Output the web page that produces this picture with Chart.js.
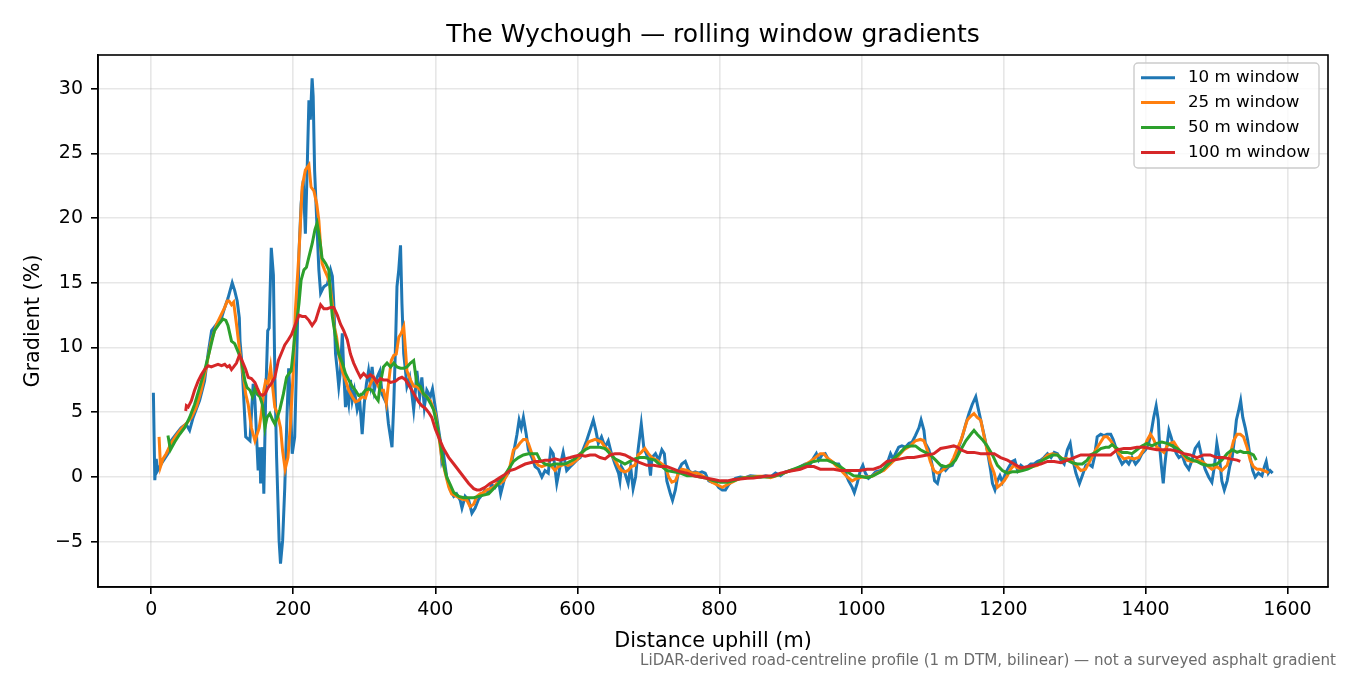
<!DOCTYPE html>
<html>
<head>
<meta charset="utf-8">
<script src="https://cdn.jsdelivr.net/npm/chart.js"></script>
<style>
  html, body { margin: 0; padding: 0; background: #fff; }
  canvas { display: block; }
</style>
</head>
<body>
<canvas id="chart" width="1350" height="675"></canvas>
<script>
/* ---------- DATA (distance m, gradient %) ---------- */
const win10 = [
  [3,6.5],[5,-0.25],[7,1.4],[9,0.5],[14,1.0],[23.5,1.8],[28,2.8],[35,3.3],[42,3.8],[49,4.1],
  [54,3.6],[59,4.6],[68,5.9],[75,7.4],[80,9.5],[85,11.3],[92,11.8],[99,12.3],[103.5,13.1],[108,13.8],
  [114,15.0],[117.5,14.4],[121,13.6],[124,12.3],[125,10.5],[127,9.2],[129,7.4],[133,3.1],[139,2.8],[143.5,7.2],
  [146,5.9],[150.5,0.5],[153,2.3],[154,-0.5],[157,2.3],[158.5,-1.3],[161,5.9],[164,11.3],[166,11.5],[169,17.7],
  [172,15.6],[174,7.9],[176.5,1.5],[180,-4.9],[182,-6.7],[185,-4.9],[188,-0.8],[191,4.5],[193.5,8.4],[196,5.7],
  [198.5,1.8],[202,3.1],[205.5,10.8],[208,17.3],[211,21.1],[214,22.9],[217,18.8],[219.5,23.7],[222,29.1],[224,27.6],
  [226.5,30.8],[228,29.4],[230,23.7],[233,19.8],[236,16.0],[238.5,14.2],[243,14.7],[248,14.9],[252.5,16.0],[255,15.5],
  [257,13.4],[259.5,9.5],[262,8.2],[264,7.0],[266.5,8.2],[269,11.1],[271,8.2],[273.5,5.4],[276,6.4],[278,5.7],
  [280.5,7.5],[283,5.9],[286,6.7],[290,5.2],[293.5,5.9],[297,3.3],[300,5.7],[303,7.2],[306,8.2],[308.5,7.2],
  [311,8.5],[314,6.7],[318,7.7],[322,8.2],[325,6.4],[331,5.7],[334,4.1],[339,2.3],[341.5,5.7],[344,10.3],
  [346,14.7],[348.5,16.0],[351,17.9],[353,13.4],[355.5,9.5],[358,8.2],[360,7.0],[364,7.7],[367,6.4],[369.5,5.2],
  [372,6.7],[374,8.2],[378,6.2],[381,7.7],[384.5,5.4],[388,6.7],[393,6.2],[396,6.8],[402,4.6],[407,2.8],
  [409,1.3],[411.5,1.8],[416,0.0],[421,-1.0],[426,-1.5],[430,-1.3],[435,-1.8],[437.5,-2.4],[442,-1.5],[447,-1.8],
  [451.5,-2.8],[456,-2.4],[461,-1.7],[465.5,-1.4],[470,-1.0],[475,-1.2],[479.5,-0.6],[484,-0.8],[489,-0.3],[492,-1.3],
  [498,0.0],[503,0.3],[508,1.3],[511,2.1],[515,3.3],[518,4.4],[521,3.8],[524,4.6],[528,3.3],[531,2.1],
  [536,1.5],[540.5,0.8],[545,0.6],[550,0.0],[554.5,0.5],[559,0.3],[562.5,2.1],[566,1.8],[571,-0.5],[575.5,0.8],
  [580,1.9],[585,0.5],[590,0.8],[594,1.0],[599,1.3],[604,1.5],[608,2.1],[613,2.8],[619,3.8],[622.5,4.4],
  [626,3.6],[629.5,2.6],[634,3.1],[639,2.3],[643.5,2.8],[648,1.8],[653,1.0],[658,0.3],[660,-0.3],[662,0.8],
  [667,0.3],[671.5,-0.5],[675,0.8],[678.5,-0.9],[682,0.0],[685.5,2.1],[690,4.1],[693.5,2.3],[697,1.8],[700.5,1.3],
  [703,0.1],[705,1.5],[710,1.8],[714.5,1.3],[719,2.1],[722.5,1.8],[726,-0.3],[731,-1.3],[734,-1.8],[738,-1.0],
  [742.5,0.5],[747,1.0],[752,1.2],[757,0.5],[761.5,0.3],[766,0.4],[771,0.3],[775.5,0.4],[780,0.3],[785,-0.3],
  [790,-0.4],[794,-0.4],[799,-0.8],[804,-1.0],[808.5,-1.0],[813,-0.6],[818,-0.3],[822.5,-0.1],[829.5,0.0],[836.5,-0.05],
  [843.5,0.1],[850.5,0.05],[857.5,0.0],[865,0.1],[872,0.0],[879,0.3],[886,0.1],[893,0.4],[900,0.5],[907,0.6],
  [914,0.8],[921,1.0],[928,1.0],[933,1.5],[936.5,1.8],[940,1.3],[944.5,1.7],[949,1.8],[954,1.3],[958.5,1.2],
  [963,1.0],[968,1.0],[973,0.5],[977.5,0.3],[982,-0.3],[987,-0.8],[990,-1.2],[994,-0.5],[998.5,0.5],[1002,0.9],
  [1005.5,0.3],[1010,-0.1],[1015,0.1],[1020,0.4],[1027,0.5],[1031.5,0.6],[1036,1.0],[1041,1.8],[1044.5,1.4],[1048,1.8],
  [1052.5,2.3],[1057,2.4],[1062,2.3],[1067,2.6],[1071.5,2.7],[1076,3.2],[1081,3.8],[1084,4.4],[1088,3.6],[1090,2.6],
  [1095,2.1],[1100,0.8],[1103,-0.3],[1107,-0.5],[1110.5,0.3],[1114,0.8],[1118.5,0.5],[1123,0.8],[1128,0.9],[1132.5,1.5],
  [1137,2.3],[1142,3.1],[1147,4.1],[1151.5,4.9],[1156,5.6],[1161,6.2],[1164,5.4],[1168,4.4],[1172.5,3.3],[1177,2.1],
  [1182,0.5],[1184.5,-0.5],[1188,-1.0],[1191.5,-0.3],[1195,0.1],[1198.5,-0.4],[1203,0.3],[1208,0.8],[1212.5,1.2],[1216,1.3],
  [1220,0.5],[1224.5,0.9],[1229,0.7],[1234,0.8],[1238.5,1.0],[1243,1.0],[1248,1.2],[1252.5,1.3],[1257,1.5],[1262,1.8],
  [1267,1.5],[1271.5,1.9],[1276,1.8],[1281,1.3],[1285.5,1.0],[1290,2.1],[1294,2.6],[1297,1.5],[1302,0.3],[1307,-0.5],
  [1311,0.1],[1316,0.9],[1320,1.0],[1325,0.8],[1328,1.5],[1332,3.1],[1337,3.3],[1341.5,3.2],[1346,3.3],[1351,3.3],
  [1354.5,2.9],[1358,2.3],[1362.5,1.5],[1367,1.0],[1372,1.3],[1376.5,1.0],[1381,1.5],[1386,1.0],[1390.5,1.3],[1395,1.8],
  [1400,2.1],[1404.5,2.6],[1408.5,3.6],[1411.5,4.6],[1415,5.5],[1418,4.4],[1420,2.3],[1422.5,0.8],[1425,-0.5],[1427,0.8],
  [1429.5,2.1],[1433,3.6],[1436,3.1],[1440,2.3],[1443.5,1.8],[1447,1.5],[1451.5,1.7],[1456,1.0],[1461,0.6],[1465.5,1.3],
  [1470,2.2],[1475,2.6],[1479.5,1.5],[1484,0.6],[1489,0.0],[1493.5,-0.4],[1497,0.8],[1500.5,2.6],[1504.5,1.3],[1507.5,-0.3],
  [1511,-1.0],[1515,-0.3],[1518.5,0.8],[1522,1.5],[1525,2.8],[1528,4.4],[1531,5.1],[1534,5.9],[1537,4.6],[1540.5,3.8],
  [1544,2.8],[1547.5,1.5],[1551,0.5],[1554.5,0.0],[1559,0.3],[1564,0.1],[1567.5,0.8],[1570,1.2],[1573,0.3],[1575.5,0.5],
  [1579,0.3]
];

const win25 = [
  [11,3.1],[13,0.8],[16.5,1.4],[21,1.8],[28,2.6],[35,3.2],[42,3.7],[49,4.1],[56.5,4.6],[63.5,5.4],
  [70.5,6.7],[77.5,8.5],[84.5,10.5],[92,11.8],[99,12.6],[103.5,13.1],[107,13.6],[109.5,13.6],[113,13.3],[116,13.5],
  [120,11.8],[124.5,9.7],[129.5,7.9],[133,6.4],[136.5,5.6],[141,3.8],[146,2.8],[149,3.3],[152,3.8],[155,4.9],
  [158.5,6.7],[161,7.4],[164.5,7.2],[168,8.5],[171,6.9],[174,5.4],[177.5,4.9],[182,3.8],[185,2.0],[188.5,0.6],
  [192.5,1.5],[196,4.1],[200,8.2],[203,12.9],[208,17.3],[212.5,22.4],[217,23.7],[222,24.1],[225,22.4],[229,22.1],
  [233,21.1],[236,19.8],[238.5,17.8],[240.5,16.5],[244,16.0],[248,15.5],[251.5,14.9],[255,13.4],[257,11.8],[261,10.8],
  [264,9.5],[269,8.2],[273.5,7.5],[278,6.7],[283,6.2],[287.5,5.8],[292,5.9],[297,6.2],[301.5,6.1],[305,6.7],
  [308.5,7.2],[313,7.7],[318,7.2],[322.5,6.7],[327,6.7],[331,5.7],[334,7.2],[338,9.0],[341.5,9.4],[345,9.5],
  [348.5,10.8],[352,11.1],[355.5,11.6],[358,9.8],[360,8.2],[365,7.5],[369.5,7.0],[374,7.0],[379,6.7],[383.5,6.4],
  [388,6.2],[393,5.9],[400,4.9],[404.5,3.3],[409,1.5],[414,0.3],[419,-0.8],[423,-1.3],[430,-1.5],[437.5,-1.7],
  [444.5,-1.8],[449,-2.3],[454,-2.1],[458.5,-1.5],[463,-1.3],[468,-1.2],[472.5,-1.0],[477,-0.9],[482,-0.8],[486.5,-0.5],
  [491,-0.5],[496,-0.3],[500.5,0.1],[505,0.8],[510,2.1],[515,2.3],[519,2.6],[524,2.9],[528,2.9],[531,2.6],
  [536,1.8],[540.5,1.2],[545,0.9],[550,0.8],[554.5,0.9],[559,1.0],[564,0.8],[568.5,0.5],[573,0.8],[578,0.9],
  [582.5,1.0],[587,0.9],[592,1.0],[596.5,1.2],[601,1.4],[606,1.8],[611,2.2],[615.5,2.7],[620,2.8],[625,2.9],
  [629.5,2.8],[634,2.7],[639,2.3],[643.5,2.1],[648,1.7],[653,1.3],[658,0.8],[662,0.5],[667,0.4],[671.5,0.5],
  [676,0.8],[681,0.9],[685.5,1.7],[690,1.9],[695,2.2],[700,1.8],[705,1.5],[712,1.3],[719,1.0],[724,0.8],
  [728.5,0.0],[733,-0.4],[738,-0.3],[742.5,0.3],[747,0.6],[754.5,0.5],[761.5,0.3],[768.5,0.3],[775.5,0.1],[782.5,-0.1],
  [789.5,-0.4],[796.5,-0.6],[804,-0.8],[811,-0.6],[818,-0.4],[825,-0.2],[834,-0.05],[843.5,0.0],[853,0.05],[862.5,0.05],
  [872,-0.05],[881,0.1],[890.5,0.3],[900,0.5],[909,0.6],[919,0.9],[928,1.2],[935,1.5],[942,1.8],[947,1.8],
  [951.5,1.5],[958.5,1.2],[965.5,0.8],[973,0.4],[980,0.0],[987,-0.3],[994,-0.1],[1001,0.0],[1008,0.0],[1015,0.05],
  [1022,0.3],[1031.5,0.5],[1041,1.0],[1050,1.5],[1060,2.1],[1069,2.4],[1076,2.8],[1083,2.9],[1088,2.8],[1092.5,2.1],
  [1097,1.2],[1102,0.5],[1107,0.3],[1111.5,0.4],[1116,0.6],[1121,0.8],[1125.5,1.0],[1130,1.5],[1135,2.2],[1140,2.8],
  [1144.5,3.6],[1149,4.4],[1154,4.7],[1158.5,4.9],[1163,4.6],[1168,4.4],[1172.5,3.2],[1177,2.1],[1182,1.0],[1187,0.3],
  [1191.5,-0.8],[1196,-0.6],[1201,-0.3],[1205.5,0.1],[1210,0.6],[1215,0.9],[1220,0.7],[1227,0.6],[1234,0.7],[1241,0.8],
  [1248,0.9],[1255,1.3],[1262,1.7],[1269,1.8],[1276,1.7],[1283,1.4],[1290,1.4],[1297,1.2],[1304,0.8],[1309,0.5],
  [1315.5,0.6],[1322.5,1.3],[1330,2.1],[1337,2.7],[1341.5,3.1],[1346,3.1],[1351,2.8],[1355.5,2.4],[1362.5,1.8],[1369.5,1.4],
  [1376.5,1.5],[1383.5,1.4],[1390.5,1.5],[1397.5,2.1],[1402,2.8],[1407,3.3],[1411.5,2.9],[1416,2.3],[1421,2.1],[1426,1.9],
  [1430.5,2.4],[1435,2.6],[1440,2.7],[1444.5,2.3],[1451.5,1.8],[1458.5,1.3],[1465.5,1.2],[1472.5,1.3],[1479.5,1.2],[1486.5,0.9],
  [1493.5,0.6],[1500.5,0.8],[1507.5,0.5],[1515,0.9],[1519.5,1.8],[1524,2.8],[1529,3.3],[1533.5,3.3],[1538,3.1],[1543,2.3],
  [1547.5,1.3],[1552,0.8],[1557,0.6],[1561.5,0.6],[1566,0.5],[1571,0.4],[1573,0.3]
];

const win50 = [
  [23.5,3.2],[27,2.1],[33,2.7],[40,3.3],[47,3.8],[54,4.6],[61,5.6],[68,6.9],[75,8.2],[82,9.7],
  [89,11.3],[96.5,11.9],[101,12.2],[105,12.1],[108,11.7],[113,10.5],[117.5,10.3],[122,9.7],[127,9.0],[132,7.4],
  [135,6.9],[139,6.7],[142.5,6.2],[146,6.8],[149,6.4],[153,6.2],[156.5,5.6],[160,3.8],[163,4.6],[167,4.9],
  [171,4.4],[174,4.1],[177.5,4.6],[181,5.2],[186,6.4],[190.5,7.7],[194,8.0],[197,8.2],[202,10.8],[208,13.4],
  [211,15.2],[215,16.0],[218.5,16.2],[222,17.0],[226.5,18.0],[230.5,19.1],[233.5,19.6],[236,18.8],[238.5,17.8],[240.5,16.9],
  [245.5,16.5],[250,16.0],[252.5,13.9],[255,12.4],[259.5,10.8],[264,9.5],[269,8.8],[273.5,8.0],[278,7.5],[283,7.0],
  [287.5,6.7],[292,6.3],[297,6.4],[301.5,6.7],[306,6.8],[311,6.7],[315.5,6.2],[319.5,5.9],[322.5,7.2],[327,8.5],
  [332,8.8],[337,8.5],[341.5,8.8],[346,8.5],[351,8.4],[355.5,8.4],[360,8.5],[365,8.8],[369.5,9.0],[372,8.0],
  [374,7.2],[379,7.0],[383.5,6.4],[388,6.2],[393,5.7],[397.5,5.2],[402,4.1],[407,2.6],[411.5,1.0],[416,0.0],
  [421,-0.6],[426,-1.2],[433,-1.5],[440,-1.6],[447,-1.6],[454,-1.6],[461,-1.5],[468,-1.4],[475,-1.3],[482,-0.9],
  [489,-0.5],[496,0.0],[503,0.6],[510,1.2],[517,1.5],[524,1.7],[531,1.8],[538,1.8],[543,1.8],[547.5,1.3],
  [554.5,1.0],[561.5,0.9],[568.5,1.0],[575.5,1.0],[582.5,1.0],[590,1.2],[596.5,1.4],[604,1.8],[611,2.1],[618,2.3],
  [625,2.3],[632,2.3],[639,2.2],[646,1.8],[653,1.4],[660,1.2],[667,1.0],[674,1.2],[681,1.4],[688,1.5],
  [695,1.5],[702,1.4],[709,1.3],[717,0.9],[726,0.5],[735.5,0.4],[745,0.3],[754.5,0.1],[764,0.1],[773,0.0],
  [782.5,-0.1],[792,-0.3],[801.5,-0.4],[811,-0.4],[820,-0.3],[829.5,-0.1],[839,-0.05],[848,0.0],[857.5,0.0],[867,0.0],
  [876.5,0.05],[886,0.2],[895,0.4],[904.5,0.6],[914,0.8],[923.5,1.0],[933,1.2],[942,1.3],[951.5,1.3],[961,1.1],
  [970,0.8],[980,0.4],[989,0.1],[998.5,0.05],[1008,-0.05],[1017,0.1],[1027,0.4],[1036,0.9],[1045.5,1.4],[1055,1.9],
  [1062,2.3],[1069,2.4],[1076,2.4],[1083,2.1],[1090,1.9],[1097,1.7],[1104.5,1.3],[1111.5,0.9],[1118.5,0.8],[1125.5,0.9],
  [1132.5,1.3],[1140,2.1],[1147,2.8],[1154,3.3],[1158.5,3.6],[1163,3.3],[1170,2.9],[1177,2.4],[1184.5,1.7],[1191.5,0.9],
  [1198.5,0.5],[1205.5,0.3],[1212.5,0.4],[1220,0.4],[1227,0.5],[1234,0.6],[1241,0.8],[1248,1.0],[1255,1.3],[1262,1.5],
  [1269,1.7],[1276,1.7],[1283,1.4],[1290,1.3],[1297,1.1],[1304,1.0],[1311,1.0],[1318,1.3],[1322.5,1.7],[1330,1.9],
  [1337,2.2],[1344,2.3],[1348.5,2.3],[1353,2.5],[1360,2.2],[1367,1.9],[1374,1.9],[1381,1.8],[1388,2.1],[1395,2.4],
  [1402,2.6],[1409,2.4],[1416,2.6],[1423,2.7],[1430.5,2.6],[1437.5,2.4],[1444.5,2.2],[1451.5,1.9],[1458.5,1.5],[1465.5,1.3],
  [1472.5,1.2],[1479.5,1.0],[1486.5,0.9],[1493.5,0.9],[1500.5,1.0],[1507.5,1.3],[1515,1.8],[1522,2.1],[1529,1.9],[1533.5,2.0],
  [1538,1.9],[1545,1.9],[1552,1.7],[1556,1.3]
];

const win100 = [
  [48.5,5.1],[49.5,5.5],[52,5.4],[56.5,5.9],[61,6.7],[66,7.4],[70.5,7.9],[75,8.3],[80,8.6],[84.5,8.5],
  [89,8.6],[94,8.7],[99,8.6],[103.5,8.7],[107,8.5],[110,8.6],[113,8.3],[116,8.5],[120,8.8],[124,9.4],
  [127,9.1],[130,8.7],[133,8.3],[136.5,7.7],[141,7.6],[146,7.3],[149,6.9],[153,6.4],[156.5,6.3],[160,6.4],
  [164.5,6.9],[169,7.2],[174,7.7],[179,9.0],[183.5,9.6],[188,10.2],[193,10.6],[197.5,11.0],[203,11.8],[208,12.5],
  [212.5,12.4],[217,12.4],[222,12.1],[226.5,11.7],[231.5,12.1],[236,12.9],[238.5,13.3],[243,13.0],[248,13.0],[252.5,13.1],
  [257,13.1],[262,12.5],[266.5,11.8],[271,11.3],[276,10.6],[280.5,9.5],[285,8.8],[290,8.2],[294.5,7.7],[299,8.0],
  [304,7.7],[308.5,7.9],[313,7.7],[318,7.3],[322.5,7.6],[327,7.5],[332,7.5],[337,7.3],[344,7.4],[348.5,7.6],
  [353,7.7],[358,7.5],[362.5,7.1],[367,6.7],[372,6.2],[376.5,5.8],[381,5.5],[386,5.3],[390.5,5.0],[395,4.6],
  [400,3.7],[404.5,3.1],[411.5,2.2],[419,1.5],[426,1.0],[433,0.5],[440,0.0],[447,-0.5],[454,-0.9],[458.5,-1.0],
  [463,-1.0],[470,-0.8],[477,-0.5],[484,-0.3],[491,-0.05],[498,0.2],[505,0.5],[512,0.6],[519,0.8],[526.5,1.0],
  [533.5,1.1],[540.5,1.2],[547.5,1.2],[554.5,1.3],[561.5,1.3],[568.5,1.4],[575.5,1.3],[582.5,1.4],[590,1.5],[596.5,1.6],
  [604,1.7],[611,1.6],[618,1.7],[625,1.7],[632,1.5],[639,1.4],[646,1.7],[653,1.8],[660,1.8],[667,1.7],
  [674,1.5],[681,1.3],[688,1.1],[698,0.9],[707.5,0.9],[717,0.8],[726,0.8],[735.5,0.6],[745,0.4],[754.5,0.3],
  [764,0.1],[773,0.0],[782.5,-0.1],[792,-0.2],[801.5,-0.3],[811,-0.3],[820,-0.2],[829.5,-0.15],[839,-0.1],[848,-0.08],
  [857.5,0.0],[867,0.08],[876.5,0.1],[886,0.3],[895,0.4],[904.5,0.5],[914,0.6],[923.5,0.8],[933,0.8],[942,0.6],
  [951.5,0.6],[961,0.6],[970,0.5],[980,0.5],[989,0.5],[998.5,0.5],[1008,0.6],[1017,0.6],[1027,0.8],[1036,1.2],
  [1045.5,1.3],[1055,1.4],[1064.5,1.5],[1074,1.5],[1083,1.6],[1092.5,1.7],[1102,1.8],[1111.5,2.2],[1121,2.3],[1130,2.4],
  [1135,2.3],[1140,2.1],[1149,1.9],[1158.5,1.9],[1168,1.8],[1177,1.8],[1187,1.8],[1196,1.5],[1205.5,1.3],[1215,1.0],
  [1224.5,0.7],[1234,0.8],[1243,0.9],[1252.5,1.0],[1262,1.2],[1271.5,1.2],[1281,1.1],[1290,1.3],[1299.5,1.5],[1309,1.7],
  [1318,1.7],[1327,1.7],[1336,1.7],[1345,1.7],[1351,1.7],[1360,2.1],[1369.5,2.2],[1379,2.2],[1388,2.3],[1397.5,2.3],
  [1407,2.2],[1416,2.1],[1426,2.1],[1435,2.1],[1444.5,2.0],[1454,1.8],[1463,1.7],[1472.5,1.5],[1482,1.7],[1491,1.7],
  [1500.5,1.5],[1510,1.5],[1519.5,1.4],[1529,1.3],[1533.5,1.2]
];

const seriesLabels = ['10 m window', '25 m window', '50 m window', '100 m window'];
const seriesColors = ['#1f77b4', '#ff7f0e', '#2ca02c', '#d62728'];
const seriesData = [win10, win25, win50, win100];

const xTicks = [0, 200, 400, 600, 800, 1000, 1200, 1400, 1600];
const yTicks = [-5, 0, 5, 10, 15, 20, 25, 30];

const titleText = 'The Wychough \u2014 rolling window gradients';
const noteText = 'LiDAR-derived road-centreline profile (1 m DTM, bilinear) \u2014 not a surveyed asphalt gradient';

/* ---------- CHART ---------- */
const FONT = "'DejaVu Sans', sans-serif";

const datasets = seriesData.map((pts, i) => ({
  label: seriesLabels[i],
  data: pts.map(p => ({ x: p[0], y: p[1] })),
  borderColor: seriesColors[i],
  backgroundColor: seriesColors[i],
  borderWidth: 3,
  pointRadius: 0,
  tension: 0,
  fill: false,
  order: seriesData.length - i
}));

// frame, title, note and legend drawn on the canvas
const decorations = {
  id: 'decorations',
  afterDatasetsDraw(chart) {
    const { ctx, chartArea: a } = chart;
    ctx.save();
    ctx.strokeStyle = '#000';
    ctx.lineWidth = 1.6;
    ctx.strokeRect(a.left, a.top, a.right - a.left, a.bottom - a.top);

    // legend
    const bx = 1134, by = 63, bw = 185, bh = 105, r = 4;
    ctx.beginPath();
    ctx.moveTo(bx + r, by);
    ctx.arcTo(bx + bw, by, bx + bw, by + bh, r);
    ctx.arcTo(bx + bw, by + bh, bx, by + bh, r);
    ctx.arcTo(bx, by + bh, bx, by, r);
    ctx.arcTo(bx, by, bx + bw, by, r);
    ctx.closePath();
    ctx.fillStyle = 'rgba(255,255,255,0.8)';
    ctx.fill();
    ctx.strokeStyle = '#cccccc';
    ctx.lineWidth = 1.4;
    ctx.stroke();

    ctx.font = '16.7px ' + FONT;
    ctx.textBaseline = 'middle';
    ctx.textAlign = 'left';
    chart.data.datasets.forEach((ds, i) => {
      const y = 77.7 + i * 24.9;
      ctx.strokeStyle = ds.borderColor;
      ctx.lineWidth = 3;
      ctx.beginPath();
      ctx.moveTo(1141, y);
      ctx.lineTo(1175, y);
      ctx.stroke();
      ctx.fillStyle = '#000';
      ctx.fillText(ds.label, 1188, y);
    });

    // title
    ctx.font = '25px ' + FONT;
    ctx.textAlign = 'center';
    ctx.textBaseline = 'alphabetic';
    ctx.fillStyle = '#000';
    ctx.fillText(titleText, (a.left + a.right) / 2, 42);

    // footnote
    ctx.font = '15.1px ' + FONT;
    ctx.textAlign = 'right';
    ctx.fillStyle = '#6b6b6b';
    ctx.fillText(noteText, 1336, 665);
    ctx.restore();
  }
};

const gridCommon = {
  color: 'rgba(176,176,176,0.3)',
  lineWidth: 1.6,
  tickColor: '#000',
  tickLength: 7,
  tickWidth: 1.6,
  drawTicks: true
};

new Chart(document.getElementById('chart'), {
  type: 'line',
  data: { datasets },
  options: {
    responsive: false,
    animation: false,
    devicePixelRatio: 1,
    layout: { padding: { top: 55, right: 22, bottom: 0, left: 0 } },
    plugins: {
      legend: { display: false },
      tooltip: { enabled: false },
      title: { display: false }
    },
    scales: {
      x: {
        type: 'linear',
        min: -75,
        max: 1657,
        afterBuildTicks: s => { s.ticks = xTicks.map(v => ({ value: v })); },
        afterFit: s => { s.height = 88; },
        grid: gridCommon,
        border: { display: true, color: '#000', width: 1.6 },
        ticks: {
          font: { family: FONT, size: 19 },
          color: '#000',
          padding: 5,
          maxRotation: 0,
          autoSkip: false,
          callback: v => String(v)
        },
        title: {
          display: true,
          text: 'Distance uphill (m)',
          font: { family: FONT, size: 20.8 },
          color: '#000',
          padding: { top: 0, bottom: 21 }
        }
      },
      y: {
        type: 'linear',
        min: -8.5,
        max: 32.6,
        afterBuildTicks: s => { s.ticks = yTicks.map(v => ({ value: v })); },
        afterFit: s => { s.width = 98; },
        grid: gridCommon,
        border: { display: true, color: '#000', width: 1.6 },
        ticks: {
          font: { family: FONT, size: 19 },
          color: '#000',
          padding: 8,
          callback: v => String(v).replace('-', '\u2212')
        },
        title: {
          display: true,
          text: 'Gradient (%)',
          font: { family: FONT, size: 20.8 },
          color: '#000',
          padding: { top: 21, bottom: 0 }
        }
      }
    }
  },
  plugins: [decorations]
});
</script>
</body>
</html>
